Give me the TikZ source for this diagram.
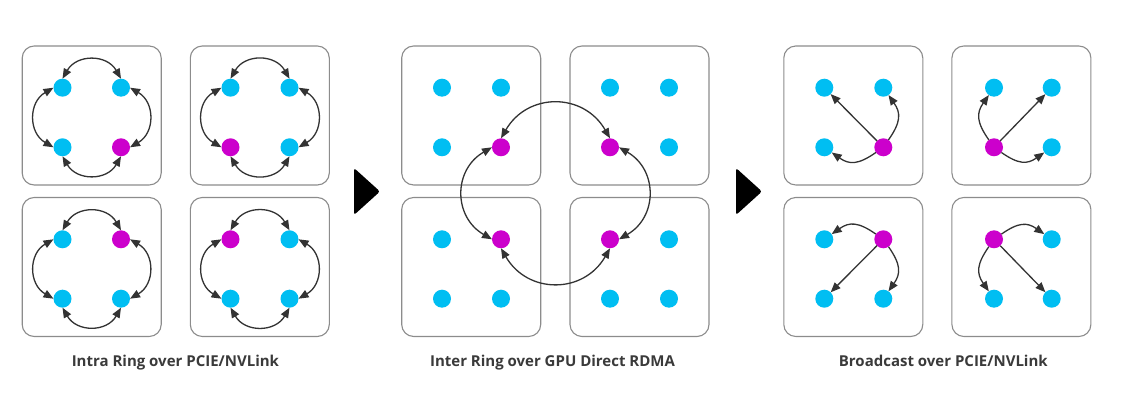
\documentclass[tikz,border=0pt]{standalone}
\usepackage{fontspec}
\setmainfont{Open Sans}
\usetikzlibrary{arrows.meta}
\definecolor{cyanc}{RGB}{0,190,242}
\definecolor{magc}{RGB}{204,0,204}
\definecolor{boxgray}{RGB}{140,140,140}
\definecolor{arrgray}{RGB}{51,51,51}
\definecolor{txtgray}{RGB}{58,58,58}
\tikzset{
  box/.style={draw=boxgray, line width=1.1pt, rounded corners=12pt, minimum width=139pt, minimum height=139pt, inner sep=0pt, fill=white},
  gpu/.style={circle, fill=cyanc, minimum size=18pt, inner sep=0pt, outer sep=0pt},
  root/.style={gpu, fill=magc},
  tip/.tip={Triangle[length=10pt,width=8pt]},
  link/.style={draw=arrgray, line width=1.3pt, -tip},
  dlink/.style={draw=arrgray, line width=1.3pt, tip-tip},
  ring/.style={dlink, bend left=60, looseness=1.25},
  curvy/.style={link, looseness=1.25},
  lbl/.style={font=\bfseries\fontsize{15}{18}\selectfont, text=txtgray, anchor=base, inner sep=0pt},
  pointer/.style={fill=black, rounded corners=2.5pt}
}
\newcommand\quadnodes[9]{%
  \node[#6] (#1tl) at (#2,#4) {};
  \node[#7] (#1tr) at (#3,#4) {};
  \node[#8] (#1bl) at (#2,#5) {};
  \node[#9] (#1br) at (#3,#5) {};
}
\newcommand\ringarrows[1]{%
  \draw[ring] (#1tl.north) to (#1tr.north);
  \draw[ring] (#1tr.east) to (#1br.east);
  \draw[ring] (#1br.south) to (#1bl.south);
  \draw[ring] (#1bl.west) to (#1tl.west);
}
\begin{document}
\begin{tikzpicture}[x=1pt,y=1pt]
\useasboundingbox (0,0) rectangle (1130,420);
% boxes
\node[box] (boxA1) at (91.7,304.5) {};
\node[box] (boxA2) at (259.8,304.5) {};
\node[box] (boxA3) at (91.7,153) {};
\node[box] (boxA4) at (259.8,153) {};
\node[box] (boxB1) at (471.2,304.5) {};
\node[box] (boxB2) at (639.5,304.5) {};
\node[box] (boxB3) at (471.2,153) {};
\node[box] (boxB4) at (639.5,153) {};
\node[box] (boxC1) at (853.3,304.5) {};
\node[box] (boxC2) at (1021.4,304.5) {};
\node[box] (boxC3) at (853.3,153) {};
\node[box] (boxC4) at (1021.4,153) {};
% nodes: intra ring
\quadnodes{A1}{62.5}{121}{332.3}{272.7}{gpu}{gpu}{gpu}{root}
\quadnodes{A2}{230.5}{289.5}{332.3}{272.7}{gpu}{gpu}{root}{gpu}
\quadnodes{A3}{62.5}{121}{180.7}{121.3}{gpu}{root}{gpu}{gpu}
\quadnodes{A4}{230.5}{289.5}{180.7}{121.3}{root}{gpu}{gpu}{gpu}
% nodes: inter ring
\quadnodes{B1}{442}{501}{332.3}{272.7}{gpu}{gpu}{gpu}{root}
\quadnodes{B2}{610}{669}{332.3}{272.7}{gpu}{gpu}{root}{gpu}
\quadnodes{B3}{442}{501}{180.7}{121.3}{gpu}{root}{gpu}{gpu}
\quadnodes{B4}{610}{669}{180.7}{121.3}{root}{gpu}{gpu}{gpu}
% nodes: broadcast
\quadnodes{C1}{824.3}{883.3}{332.3}{272.7}{gpu}{gpu}{gpu}{root}
\quadnodes{C2}{994}{1051.7}{332.3}{272.7}{gpu}{gpu}{root}{gpu}
\quadnodes{C3}{824.3}{883.3}{180.7}{121.3}{gpu}{root}{gpu}{gpu}
\quadnodes{C4}{994}{1051.7}{180.7}{121.3}{root}{gpu}{gpu}{gpu}
% intra ring arrows
\ringarrows{A1}
\ringarrows{A2}
\ringarrows{A3}
\ringarrows{A4}
% inter ring arrows
\draw[ring] (B1br.north) to (B2bl.north);
\draw[ring] (B2bl.east) to (B4tl.east);
\draw[ring] (B4tl.south) to (B3tr.south);
\draw[ring] (B3tr.west) to (B1br.west);
% broadcast arrows
\draw[link] (C1br) -- (C1tl);
\draw[curvy] (C1br) to[out=55,in=-55] (C1tr);
\draw[curvy] (C1br) to[out=215,in=-35] (C1bl);
\draw[link] (C2bl) -- (C2tr);
\draw[curvy] (C2bl) to[out=125,in=235] (C2tl);
\draw[curvy] (C2bl) to[out=-35,in=215] (C2br);
\draw[link] (C3tr) -- (C3bl);
\draw[curvy] (C3tr) to[out=145,in=35] (C3tl);
\draw[curvy] (C3tr) to[out=-55,in=55] (C3br);
\draw[link] (C4tl) -- (C4br);
\draw[curvy] (C4tl) to[out=35,in=145] (C4tr);
\draw[curvy] (C4tl) to[out=235,in=125] (C4bl);
% pointers
\fill[pointer] (354,252) -- (380,228.5) -- (354,205) -- cycle;
\fill[pointer] (736,252) -- (762,228.5) -- (736,205) -- cycle;
% labels
\node[lbl] (lblA) at (175.4,53.3) {Intra Ring over PCIE/NVLink};
\node[lbl] (lblB) at (552.5,53.3) {Inter Ring over GPU Direct RDMA};
\node[lbl] (lblC) at (943.3,53.3) {Broadcast over PCIE/NVLink};
\end{tikzpicture}
\end{document}
